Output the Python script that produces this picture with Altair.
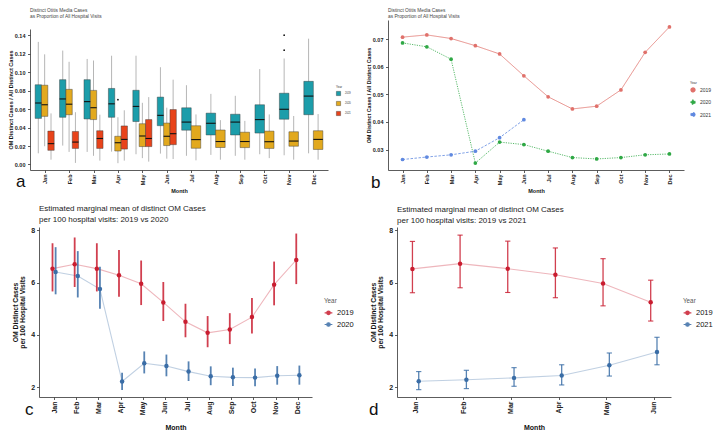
import altair as alt
import pandas as pd

FONT = "Liberation Sans"
MONTHS = ["Jan", "Feb", "Mar", "Apr", "May", "Jun", "Jul", "Aug", "Sep", "Oct", "Nov", "Dec"]
YEARS_AB = ["2019", "2020", "2021"]

# ---- panel a: box statistics (lower whisker, Q1, median, Q3, upper whisker) ----
A19_LOW = [0.0121, 0.0205, 0.0136, 0.0139, 0.0111, 0.0118, 0.0094, 0.0104, 0.0094, 0.0111, 0.0100, 0.0121]
A19_Q1 = [0.0500, 0.0512, 0.0494, 0.0512, 0.0466, 0.0421, 0.0372, 0.0320, 0.0320, 0.0341, 0.0491, 0.0540]
A19_MED = [0.0667, 0.0711, 0.0682, 0.0658, 0.0630, 0.0533, 0.0460, 0.0447, 0.0460, 0.0487, 0.0599, 0.0742]
A19_Q3 = [0.0865, 0.0920, 0.0920, 0.0825, 0.0805, 0.0731, 0.0615, 0.0557, 0.0545, 0.0648, 0.0773, 0.0902]
A19_HIGH = [0.1330, 0.1236, 0.1145, 0.1180, 0.1180, 0.1055, 0.0860, 0.0766, 0.0745, 0.1035, 0.1150, 0.1365]
A19_OUT = {"Nov": [0.1403, 0.1240]}

A20_LOW = [0.0198, 0.0136, 0.0094, 0.0014, 0.0069, 0.0063, 0.0045, 0.0052, 0.0052, 0.0069, 0.0052, 0.0052]
A20_Q1 = [0.0522, 0.0540, 0.0487, 0.0146, 0.0194, 0.0205, 0.0176, 0.0184, 0.0183, 0.0174, 0.0198, 0.0163]
A20_MED = [0.0648, 0.0654, 0.0616, 0.0236, 0.0309, 0.0306, 0.0270, 0.0249, 0.0249, 0.0247, 0.0254, 0.0272]
A20_Q3 = [0.0860, 0.0815, 0.0804, 0.0306, 0.0442, 0.0449, 0.0420, 0.0374, 0.0350, 0.0362, 0.0355, 0.0366]
A20_HIGH = [0.1195, 0.1114, 0.1128, 0.0512, 0.0669, 0.0616, 0.0543, 0.0481, 0.0473, 0.0543, 0.0526, 0.0547]
A20_OUT = {"Apr": [0.0703]}

A21_LOW = [0.0052, 0.0017, 0.0042, 0.0042, 0.0031, 0.0059]
A21_Q1 = [0.0153, 0.0174, 0.0174, 0.0167, 0.0194, 0.0215]
A21_MED = [0.0226, 0.0243, 0.0282, 0.0272, 0.0282, 0.0334]
A21_Q3 = [0.0362, 0.0358, 0.0366, 0.0418, 0.0487, 0.0596]
A21_HIGH = [0.0554, 0.0567, 0.0540, 0.0588, 0.0731, 0.0920]
A21_OUT = {}

# ---- panel b: proportion per month ----
B_2019 = [0.0707, 0.0715, 0.0702, 0.0676, 0.0646, 0.0567, 0.0491, 0.0447, 0.0457, 0.0516, 0.0652, 0.0744]
B_2020 = [0.0686, 0.0672, 0.0627, 0.0251, 0.0327, 0.0318, 0.0294, 0.0271, 0.0266, 0.0271, 0.0281, 0.0284]
B_2021 = [0.0264, 0.0273, 0.0281, 0.0294, 0.0343, 0.0408]

# ---- panel c: marginal means with CI, 2019 vs 2020 ----
C19_EST = [6.53, 6.70, 6.53, 6.28, 5.95, 5.24, 4.50, 4.08, 4.21, 4.68, 5.92, 6.86]
C19_LO = [5.66, 5.83, 5.66, 5.46, 5.14, 4.53, 3.91, 3.53, 3.65, 4.05, 5.13, 5.94]
C19_HI = [7.50, 7.72, 7.50, 7.24, 6.84, 6.02, 5.19, 4.72, 4.83, 5.41, 6.80, 7.87]
C20_EST = [6.40, 6.25, 5.75, 2.22, 2.92, 2.81, 2.60, 2.42, 2.38, 2.37, 2.44, 2.46]
C20_LO = [5.55, 5.43, 5.00, 1.90, 2.53, 2.42, 2.24, 2.08, 2.05, 2.04, 2.10, 2.10]
C20_HI = [7.35, 7.20, 6.60, 2.56, 3.37, 3.25, 2.99, 2.80, 2.75, 2.72, 2.81, 2.83]

# ---- panel d: marginal means with CI, 2019 vs 2021 ----
D19_EST = [6.52, 6.72, 6.53, 6.30, 5.96, 5.25]
D19_LO = [5.61, 5.80, 5.62, 5.42, 5.11, 4.53]
D19_HI = [7.57, 7.81, 7.58, 7.32, 6.91, 6.09]
D21_EST = [2.23, 2.29, 2.36, 2.45, 2.84, 3.35]
D21_LO = [1.91, 1.95, 2.04, 2.09, 2.43, 2.86]
D21_HI = [2.60, 2.65, 2.75, 2.86, 3.31, 3.91]

MONTH_EXPR = "[" + ",".join("'%s'" % m for m in MONTHS) + "][datum.value - 1]"

# ---------------- data frames ----------------
rows = []
for yr, stats, outs in [
    ("2019", (A19_LOW, A19_Q1, A19_MED, A19_Q3, A19_HIGH), A19_OUT),
    ("2020", (A20_LOW, A20_Q1, A20_MED, A20_Q3, A20_HIGH), A20_OUT),
    ("2021", (A21_LOW, A21_Q1, A21_MED, A21_Q3, A21_HIGH), A21_OUT),
]:
    for i, (lo, q1, md, q3, hi) in enumerate(zip(*stats)):
        rows.append(dict(month=MONTHS[i], m=i + 1, year=yr, wlo=lo, q1=q1, med=md,
                         q3=q3, whi=hi, outliers=outs.get(MONTHS[i], [])))
df_a = pd.DataFrame(rows)

rows = []
for yr, vals in [("2019", B_2019), ("2020", B_2020), ("2021", B_2021)]:
    for i, v in enumerate(vals):
        rows.append(dict(month=MONTHS[i], m=i + 1, year=yr, val=v))
df_b = pd.DataFrame(rows)


def ci_frame(series):
    out = []
    for yr, est, lo, hi in series:
        for i, (e, l, h) in enumerate(zip(est, lo, hi)):
            out.append(dict(month=MONTHS[i], m=i + 1, year=yr, est=e, lo=l, hi=h))
    return pd.DataFrame(out)


df_c = ci_frame([("2019", C19_EST, C19_LO, C19_HI), ("2020", C20_EST, C20_LO, C20_HI)])
df_d = ci_frame([("2019", D19_EST, D19_LO, D19_HI), ("2021", D21_EST, D21_LO, D21_HI)])

AX = dict(grid=False, domainColor="#333", domainWidth=0.8, tickColor="#333", tickWidth=0.8,
          labelColor="#222", titleColor="#111", labelFontWeight="bold", titleFontWeight="bold",
          labelFont=FONT, titleFont=FONT)


def letter(t, x, y):
    return alt.Chart(pd.DataFrame({"t": [t]})).mark_text(
        fontSize=17, font=FONT, align="left", baseline="alphabetic", color="#111"
    ).encode(text="t:N", x=alt.value(x), y=alt.value(y))


TOP_GAP_A = 9      # panel a's plot starts a little lower than panel b's
LEFT_GAP_CD = 9    # panels c/d start a little right of panels a/b

# ---------------- panel a ----------------
W_A, H_A = 298, 150
SPAN = 0.78
ax_ax = alt.Axis(values=list(range(1, 13)), labelExpr=MONTH_EXPR, labelAngle=-90, title="Month",
                 labelFontSize=5.5, titleFontSize=5.5, tickSize=2.5, labelPadding=1.5, titlePadding=4, **AX)
ax_ay = alt.Axis(values=[0, 0.02, 0.04, 0.06, 0.08, 0.10, 0.12, 0.14], format=".2f",
                 title="OM Distinct Cases / All Distinct Cases",
                 labelFontSize=5.5, titleFontSize=5.5, tickSize=2.5, labelPadding=2.5, titlePadding=1, **AX)
sx_a = alt.Scale(domain=[0.4, 12.6], nice=False, zero=False)
sy_a = alt.Scale(domain=[-0.006, 0.147], nice=False, zero=False, range=[H_A, TOP_GAP_A])
col_a = alt.Scale(domain=YEARS_AB, range=["#1C9DAA", "#E2A91E", "#E8431A"])
leg_a = alt.Legend(title="Year", orient="none", legendX=W_A + 8, legendY=66, titleFontSize=3,
                   labelFontSize=2.6, symbolSize=18, symbolType="square", symbolStrokeColor="#333",
                   symbolStrokeWidth=0.4, rowPadding=3, titlePadding=2, titleColor="#333",
                   labelColor="#333", titleFontWeight="normal", titleFont=FONT, labelFont=FONT)

base_a = (alt.Chart(df_a)
          .transform_joinaggregate(n="count()", groupby=["m"])
          .transform_window(k="row_number()", groupby=["m"], sort=[alt.SortField("year")])
          .transform_calculate(pos="datum.m + (datum.k - (datum.n + 1) / 2) * %f / datum.n" % SPAN)
          .transform_calculate(lo="datum.pos - %f / (2 * datum.n)" % SPAN)
          .transform_calculate(hi="datum.pos + %f / (2 * datum.n)" % SPAN))

whisk = base_a.mark_rule(color="#A3A3A3", strokeWidth=0.8).encode(
    x=alt.X("pos:Q", scale=sx_a, axis=ax_ax),
    y=alt.Y("wlo:Q", scale=sy_a, axis=ax_ay), y2="whi:Q")
box = base_a.mark_bar(stroke="#3a3a3a", strokeWidth=0.45).encode(
    x=alt.X("lo:Q", scale=sx_a, axis=ax_ax), x2="hi:Q",
    y=alt.Y("q1:Q", scale=sy_a, axis=ax_ay), y2="q3:Q",
    color=alt.Color("year:N", scale=col_a, legend=leg_a))
median = base_a.mark_rule(color="#111", strokeWidth=1.1).encode(
    x=alt.X("lo:Q", scale=sx_a, axis=ax_ax), x2="hi:Q",
    y=alt.Y("med:Q", scale=sy_a, axis=ax_ay))
outl = base_a.transform_flatten(["outliers"], as_=["out"]).mark_circle(
    size=3, color="#111", opacity=1).encode(
    x=alt.X("pos:Q", scale=sx_a, axis=ax_ax), y=alt.Y("out:Q", scale=sy_a, axis=ax_ay))

TITLE_AB = ["Distinct Otitis Media Cases", "as Proportion of All Hospital Visits"]
panel_a = alt.layer(whisk, box, median, outl, letter("a", -14, H_A + 17)).properties(
    width=W_A, height=H_A,
    title=alt.TitleParams(TITLE_AB, anchor="start", frame="group", fontSize=4.8, fontWeight="normal",
                          color="#444", lineHeight=6, offset=1, font=FONT))

# ---------------- panel b ----------------
W_B, H_B = 296, 150
ax_bx = alt.Axis(values=list(range(1, 13)), labelExpr=MONTH_EXPR, labelAngle=-90, title="Month",
                 labelFontSize=5.5, titleFontSize=5.5, tickSize=2.5, labelPadding=1.5, titlePadding=4, **AX)
ax_by = alt.Axis(values=[0.03, 0.04, 0.05, 0.06, 0.07], format=".2f",
                 title="OM Distinct Cases / All Distinct Cases",
                 labelFontSize=5.5, titleFontSize=5.3, tickSize=2.5, labelPadding=2.5, titlePadding=1, **AX)
sx_b = alt.Scale(domain=[0.4, 12.6], nice=False, zero=False)
sy_b = alt.Scale(domain=[0.0226, 0.0769], nice=False, zero=False)
col_b = alt.Scale(domain=YEARS_AB, range=["#E0716B", "#2FA845", "#6089E0"])
leg_b = alt.Legend(title="Year", orient="none", legendX=W_B + 6, legendY=61, titleFontSize=3.4,
                   labelFontSize=5, symbolSize=14, symbolType="circle", rowPadding=2.3,
                   titlePadding=2.5, titleColor="#333", labelColor="#333",
                   titleFontWeight="normal", titleFont=FONT, labelFont=FONT)
xb = alt.X("m:Q", scale=sx_b, axis=ax_bx)
yb = alt.Y("val:Q", scale=sy_b, axis=ax_by)
line_b = alt.Chart(df_b).mark_line(strokeWidth=0.8).encode(
    x=xb, y=yb, color=alt.Color("year:N", scale=col_b, legend=leg_b),
    strokeDash=alt.StrokeDash("year:N", scale=alt.Scale(domain=YEARS_AB, range=[[1, 0], [1.2, 1.2], [2.5, 1.5]]),
                              legend=None))
pts_b = alt.Chart(df_b).mark_circle(size=14, opacity=1).encode(
    x=xb, y=yb, color=alt.Color("year:N", scale=col_b, legend=leg_b))
panel_b = alt.layer(line_b, pts_b, letter("b", -17, H_B + 18)).properties(
    width=W_B, height=H_B,
    title=alt.TitleParams(TITLE_AB, anchor="start", frame="group", fontSize=4.8, fontWeight="normal",
                          color="#444", lineHeight=6, offset=1, font=FONT))

# ---------------- panels c and d ----------------
LEG_PATH = "M-1,0H1M0.45,0A0.45,0.45,0,1,1,-0.45,0A0.45,0.45,0,1,1,0.45,0Z"


def ci_panel(df, years, n_months, w, h, x_domain, dodge, caps, title, let, let_x, title_offset,
             rule_w, leg_y):
    full_w = w + LEFT_GAP_CD
    ax_x = alt.Axis(values=list(range(1, n_months + 1)), labelExpr=MONTH_EXPR, labelAngle=-90,
                    title="Month", labelFontSize=7, titleFontSize=7, tickSize=2.5, labelPadding=1.5,
                    titlePadding=8.5, **AX)
    ax_y = alt.Axis(values=[2, 4, 6, 8], title=["OM Distinct Cases", "per 100 Hospital Visits"],
                    labelFontSize=7, titleFontSize=6.8, titleLineHeight=7, tickSize=2.5,
                    labelPadding=1.8, titlePadding=5, offset=-LEFT_GAP_CD, **AX)
    sx = alt.Scale(domain=x_domain, nice=False, zero=False, range=[LEFT_GAP_CD, full_w])
    sy = alt.Scale(domain=[1.63, 8.12], nice=False, zero=False)
    col = alt.Scale(domain=years, range=["#C91D30", "#3A6DA6"])
    leg = alt.Legend(title="Year", orient="none", legendX=full_w + 12, legendY=leg_y, titleFontSize=6.3,
                     labelFontSize=7.5, symbolSize=60, symbolType=LEG_PATH, symbolStrokeWidth=1.2,
                     rowPadding=2.7, titlePadding=4, titleColor="#555", labelColor="#111",
                     titleFontWeight="normal", titleFont=FONT, labelFont=FONT)
    base = (alt.Chart(df)
            .transform_window(k="row_number()", groupby=["m"], sort=[alt.SortField("year")])
            .transform_calculate(pos="datum.m + (datum.k - 1.5) * %f" % (2 * dodge))
            .transform_calculate(capl="datum.pos - %f" % caps)
            .transform_calculate(capr="datum.pos + %f" % caps))
    c = alt.Color("year:N", scale=col, legend=leg)
    layers = [
        base.mark_line(strokeWidth=1.1, strokeOpacity=0.32).encode(
            x=alt.X("pos:Q", scale=sx, axis=ax_x), y=alt.Y("est:Q", scale=sy, axis=ax_y), color=c),
        base.mark_rule(strokeWidth=rule_w, opacity=0.85).encode(
            x=alt.X("pos:Q", scale=sx, axis=ax_x), y=alt.Y("lo:Q", scale=sy, axis=ax_y), y2="hi:Q", color=c),
    ]
    if caps > 0:
        for fld in ["lo", "hi"]:
            layers.append(base.mark_rule(strokeWidth=1.1, opacity=0.85).encode(
                x=alt.X("capl:Q", scale=sx, axis=ax_x), x2="capr:Q",
                y=alt.Y(fld + ":Q", scale=sy, axis=ax_y), color=c))
    layers.append(base.mark_point(filled=True, size=20, opacity=1).encode(
        x=alt.X("pos:Q", scale=sx, axis=ax_x), y=alt.Y("est:Q", scale=sy, axis=ax_y), color=c))
    layers.append(letter(let, let_x + LEFT_GAP_CD, h + 18))
    return alt.layer(*layers).properties(
        width=full_w, height=h,
        title=alt.TitleParams(title, anchor="start", frame="group", fontSize=8, fontWeight="normal",
                              color="#222", lineHeight=10.5, offset=title_offset, dx=LEFT_GAP_CD,
                              font=FONT))


W_C, H_C = 273, 170
W_D, H_D = 274, 170
panel_c = ci_panel(df_c, ["2019", "2020"], 12, W_C, H_C, [0.32, 12.64], 0.07, 0,
                   ["Estimated marginal mean of distinct OM Cases", "per 100 hospital visits: 2019 vs 2020"],
                   "c", -14, 2.5, 1.8, 71)
panel_d = ci_panel(df_d, ["2019", "2021"], 6, W_D, H_D, [0.61, 6.36], 0.066, 0.055,
                   ["Estimated marginal mean of distinct OM Cases", "per 100 hospital visits: 2019 vs 2021"],
                   "d", -28, 1.5, 1.3, 71)

chart = alt.concat(panel_a, panel_b, panel_c, panel_d, columns=2, align="all", bounds="flush",
                   spacing={"row": 37, "column": 60}, padding=0)
chart = (chart.resolve_scale(color="independent", strokeDash="independent", x="independent", y="independent")
         .resolve_legend(color="independent")
         .configure(font=FONT)
         .configure_view(stroke=None))

chart.save("out.html", embed_options={"renderer": "svg", "actions": False})
